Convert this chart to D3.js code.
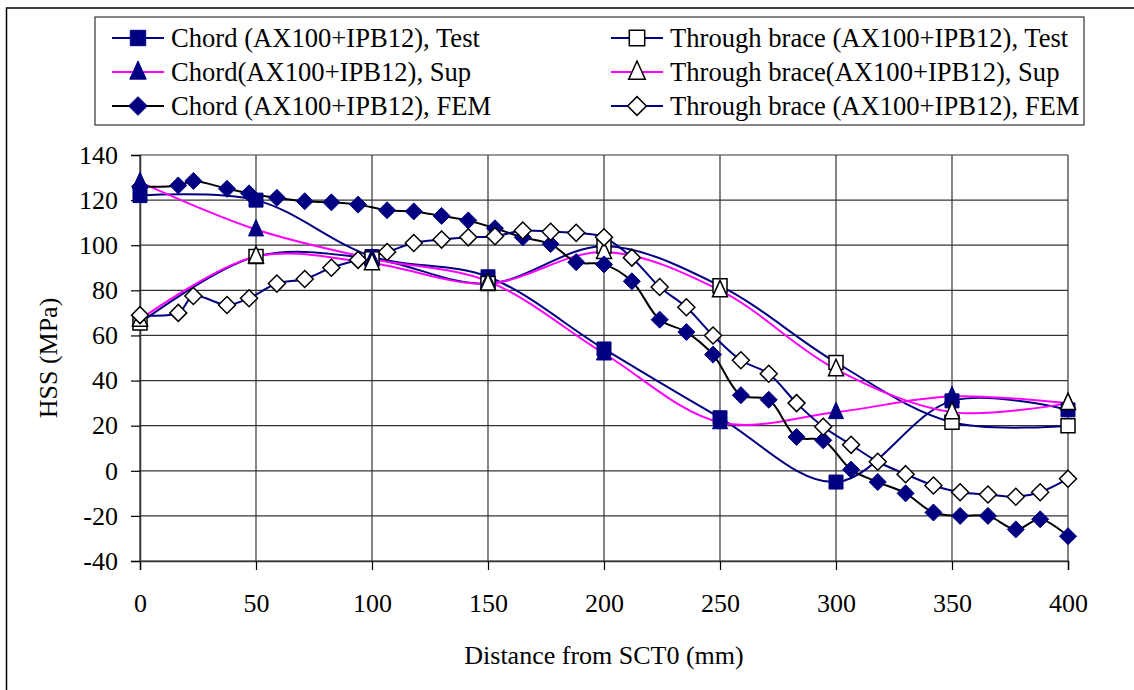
<!DOCTYPE html>
<html>
<head>
<meta charset="utf-8">
<script src="https://cdn.jsdelivr.net/npm/d3@7"></script>
<style>
  html, body { margin: 0; padding: 0; background: #fff; }
  svg { display: block; }
  svg text { font-family: "Liberation Serif", "Times New Roman", serif; }
</style>
</head>
<body>
<svg id="chart" width="1134" height="690" font-family="Liberation Serif"></svg>
<script>
// Measurement stations (mm from SCT0) and hot-spot stresses (MPa)
const testDistance = [0, 50, 100, 150, 200, 250, 300, 350, 400];
const chordTest    = [122, 120, 95, 86, 54, 23.5, -5, 31, 27];
const throughTest  = [65.5, 95, 94, 83, 99.5, 82, 48, 21.5, 20];
const chordSup     = [128, 107, 94, 84, 52, 21.5, 26, 33, 30];
const throughSup   = [67, 95, 92, 83, 97, 80, 45, 26, 30];

const femDistance = [0, 16.5, 23, 37.5, 47, 59, 71, 82.5, 94, 106.5, 118, 130, 141.5, 153, 165, 177, 188, 200,
  212, 224, 235.5, 247, 259, 271, 283, 294.5, 306.5, 318, 330, 342, 353.5, 365.5, 377.5, 388, 400];
const chordFEM = [126, 126.5, 128.5, 125, 123, 121, 119.5, 119, 118, 115.5, 115, 113, 111, 107.5, 103.5, 100.5, 92.5, 91.5,
  84, 67, 61.5, 51.5, 33.5, 31.5, 15, 13.5, 0.5, -5, -10, -18.5, -20, -20, -26, -21.5, -29];
const throughFEM = [69, 70, 77.5, 73.5, 76.5, 83, 85, 90, 93.5, 97, 101, 102.5, 103.5, 104, 106.5, 106, 105.5, 103.5,
  94.5, 81.5, 72.5, 60, 49, 43, 30, 19.5, 11.5, 4, -1.5, -6.5, -9.5, -10.5, -11.5, -9.5, -3.5];

const xTicks = [0, 50, 100, 150, 200, 250, 300, 350, 400];
const yTicks = [-40, -20, 0, 20, 40, 60, 80, 100, 120, 140];

const NAVY = "#000080", MAGENTA = "#ff00ff", BLACK = "#000";
const FONT = "'Liberation Serif', 'Times New Roman', serif";

// series in drawing order
const series = [
  { name: "Chord (AX100+IPB12), Test",          x: testDistance, y: chordTest,   line: NAVY,    marker: "square",   filled: true },
  { name: "Through brace (AX100+IPB12), Test",  x: testDistance, y: throughTest, line: NAVY,    marker: "square",   filled: false },
  { name: "Chord(AX100+IPB12), Sup",            x: testDistance, y: chordSup,    line: MAGENTA, marker: "triangle", filled: true },
  { name: "Through brace(AX100+IPB12), Sup",    x: testDistance, y: throughSup,  line: MAGENTA, marker: "triangle", filled: false },
  { name: "Chord (AX100+IPB12), FEM",           x: femDistance,  y: chordFEM,    line: BLACK,   marker: "diamond",  filled: true },
  { name: "Through brace (AX100+IPB12), FEM",   x: femDistance,  y: throughFEM,  line: NAVY,    marker: "diamond",  filled: false }
];

const svg = d3.select("#chart");
svg.append("rect").attr("width", 1134).attr("height", 690).attr("fill", "#fff");

// outer chart frame (open at right and bottom)
svg.append("path")
  .attr("d", "M6.5,690 L6.5,8 L1134,8")
  .attr("fill", "none").attr("stroke", "#000").attr("stroke-width", 1.5);

const plot = { left: 140, right: 1068, top: 155, bottom: 561 };
const x = d3.scaleLinear().domain([0, 400]).range([plot.left, plot.right]);
const y = d3.scaleLinear().domain([-40, 140]).range([plot.bottom, plot.top]);

// gridlines
const grid = svg.append("g").attr("stroke", "#333").attr("stroke-width", 1.2);
grid.selectAll("line.h").data(yTicks).join("line")
  .attr("x1", plot.left).attr("x2", plot.right)
  .attr("y1", d => y(d)).attr("y2", d => y(d));
grid.selectAll("line.v").data(xTicks).join("line")
  .attr("y1", plot.top).attr("y2", plot.bottom)
  .attr("x1", d => x(d)).attr("x2", d => x(d));

// axes (plain hyphen-minus for negative labels)
const plainNumber = d => String(d);
const xAxis = d3.axisBottom(x).tickValues(xTicks).tickSize(9).tickPadding(24).tickFormat(plainNumber);
const yAxis = d3.axisLeft(y).tickValues(yTicks).tickSize(9).tickPadding(13).tickFormat(plainNumber);

const gx = svg.append("g").attr("transform", `translate(0,${plot.bottom})`).call(xAxis);
const gy = svg.append("g").attr("transform", `translate(${plot.left},0)`).call(yAxis);
[gx, gy].forEach(g => {
  g.attr("font-family", FONT).attr("font-size", 26);
  g.select(".domain").attr("stroke", "#333").attr("stroke-width", 1.5);
  g.selectAll(".tick line").attr("stroke", "#000").attr("stroke-width", 1.2);
  g.selectAll(".tick text").attr("fill", "#000");
});

// axis titles
svg.append("text").attr("x", 604).attr("y", 664).attr("text-anchor", "middle")
  .attr("font-size", 26).text("Distance from SCT0 (mm)");
svg.append("text").attr("transform", "translate(57,358) rotate(-90)").attr("text-anchor", "middle")
  .attr("font-size", 26).text("HSS (MPa)");

// smoothed lines
const lineGen = (s) => d3.line()
  .x((d, i) => x(s.x[i]))
  .y(d => y(d))
  .curve(d3.curveCatmullRom.alpha(0.5));

const lines = svg.append("g");
series.forEach(s => {
  lines.append("path").datum(s.y)
    .attr("d", lineGen(s))
    .attr("fill", "none").attr("stroke", s.line).attr("stroke-width", 2);
});

// marker shapes
function markerPath(type, cx, cy, k = 1) {
  if (type === "square") {
    const h = 7 * k;
    return `M${cx - h},${cy - h}H${cx + h}V${cy + h}H${cx - h}Z`;
  }
  if (type === "triangle") {
    const w = 7.5 * k, t = 10 * k, b = 6.5 * k;
    return `M${cx},${cy - t}L${cx + w},${cy + b}L${cx - w},${cy + b}Z`;
  }
  const r = 8.5 * k;
  return `M${cx},${cy - r}L${cx + r},${cy}L${cx},${cy + r}L${cx - r},${cy}Z`;
}
function styleMarker(sel, s) {
  sel.attr("fill", s.filled ? NAVY : "#fff")
    .attr("stroke", s.filled ? NAVY : "#000")
    .attr("stroke-width", s.filled ? 1 : 1.5);
}

const markers = svg.append("g");
series.forEach(s => {
  markers.append("g").selectAll("path").data(s.y).join("path")
    .attr("d", (d, i) => markerPath(s.marker, x(s.x[i]), y(d)))
    .call(styleMarker, s);
});

// legend
const legend = svg.append("g");
legend.append("rect").attr("x", 95).attr("y", 17).attr("width", 989).attr("height", 108)
  .attr("fill", "#fff").attr("stroke", "#333").attr("stroke-width", 1.2);

const legendOrder = [
  [series[0], 0, 0], [series[1], 1, 0],
  [series[2], 0, 1], [series[3], 1, 1],
  [series[4], 0, 2], [series[5], 1, 2]
];
const colX = [112, 611], rowY = [38, 72, 106];
legendOrder.forEach(([s, c, r]) => {
  const x0 = colX[c], yy = rowY[r];
  const g = legend.append("g");
  g.append("line").attr("x1", x0).attr("x2", x0 + 52).attr("y1", yy).attr("y2", yy)
    .attr("stroke", s.line).attr("stroke-width", 2);
  g.append("path").attr("d", markerPath(s.marker, x0 + 26, yy, 1.1)).call(styleMarker, s);
  g.append("text").attr("x", x0 + 59).attr("y", yy + 9).attr("font-size", 26.6).text(s.name);
});
</script>
</body>
</html>
